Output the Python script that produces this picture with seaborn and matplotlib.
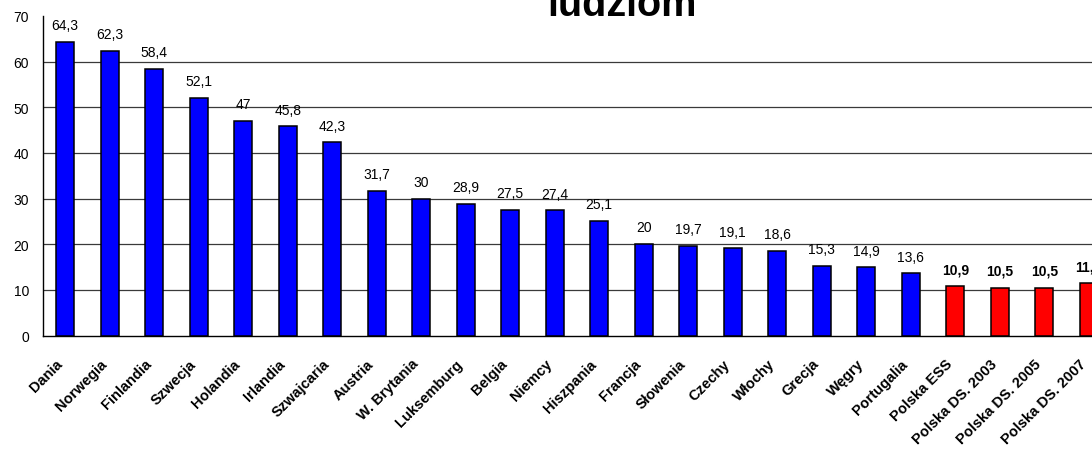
import pandas as pd
import seaborn as sns
import matplotlib.pyplot as plt
import numpy as np

# Data
kraje = ["Dania", "Norwegia", "Finlandia", "Szwecja", "Holandia", "Irlandia",
         "Szwajcaria", "Austria", "W. Brytania", "Luksemburg", "Belgia", "Niemcy",
         "Hiszpania", "Francja", "Słowenia", "Czechy", "Włochy", "Grecja", "Węgry",
         "Portugalia", "Polska ESS", "Polska DS. 2003", "Polska DS. 2005", "Polska DS. 2007"]
wartosci = [64.3, 62.3, 58.4, 52.1, 47, 45.8, 42.3, 31.7, 30, 28.9, 27.5, 27.4,
            25.1, 20, 19.7, 19.1, 18.6, 15.3, 14.9, 13.6, 10.9, 10.5, 10.5, 11.5]
grupa = ["inne"] * 20 + ["Polska"] * 4

df = pd.DataFrame({"kraj": kraje, "wartosc": wartosci, "grupa": grupa})

sns.set_style("white")
plt.rcParams['font.family'] = ['Liberation Sans', 'DejaVu Sans']
plt.rcParams['text.color'] = 'black'
plt.rcParams['xtick.color'] = 'black'
plt.rcParams['ytick.color'] = 'black'

fig = plt.figure(figsize=(10.92, 4.56), dpi=100)
# axes run past the right edge like in the cropped original
ax = fig.add_axes([43 / 1092, 1 - 336.5 / 456, 1068 / 1092, 319.5 / 456])

sns.barplot(df, x="kraj", y="wartosc", hue="grupa", dodge=False,
            palette={"inne": "#0000FF", "Polska": "#FF0000"}, saturation=1,
            width=0.41, edgecolor="black", linewidth=1.1, legend=False, ax=ax, zorder=3)

ax.set_xlim(-0.5, len(kraje) - 0.5)
ax.set_ylim(0, 70)
ax.set_yticks(range(0, 71, 10))
for y in range(10, 70, 10):
    ax.axhline(y, color="#3a3a3a", lw=0.9, zorder=1)

ax.set_xlabel("")
ax.set_ylabel("")
for s in ["top", "right"]:
    ax.spines[s].set_visible(False)
for s in ["left", "bottom"]:
    ax.spines[s].set_color("black")
    ax.spines[s].set_linewidth(1.0)

ax.tick_params(axis="y", direction="out", length=4, width=0.8, color="black",
               labelcolor="black", labelsize=10, pad=6)
ax.set_xticks(range(len(kraje)))
ax.set_xticklabels(kraje, rotation=45, ha="right", fontsize=10.5, fontweight="bold", color="black")
ax.tick_params(axis="x", length=0, pad=15)
ax.set_xticks(np.arange(-0.5, len(kraje), 1), minor=True)
ax.tick_params(axis="x", which="minor", direction="in", length=4, width=0.8, color="#555555")

# value labels above the bars
for i, (v, g) in enumerate(zip(wartosci, grupa)):
    txt = f"{v:g}".replace(".", ",")
    ax.annotate(txt, (i, v), xytext=(0, 7), textcoords="offset points",
                ha="center", va="bottom", fontsize=10, color="black",
                fontweight="bold" if g == "Polska" else "normal")

# title, cut off at the top like the original
fig.text(622 / 1092, 1 - 16 / 456, "ludziom", ha="center", va="baseline",
         fontsize=28.5, fontweight="bold", color="black")

fig.savefig("out.png", dpi=100)
